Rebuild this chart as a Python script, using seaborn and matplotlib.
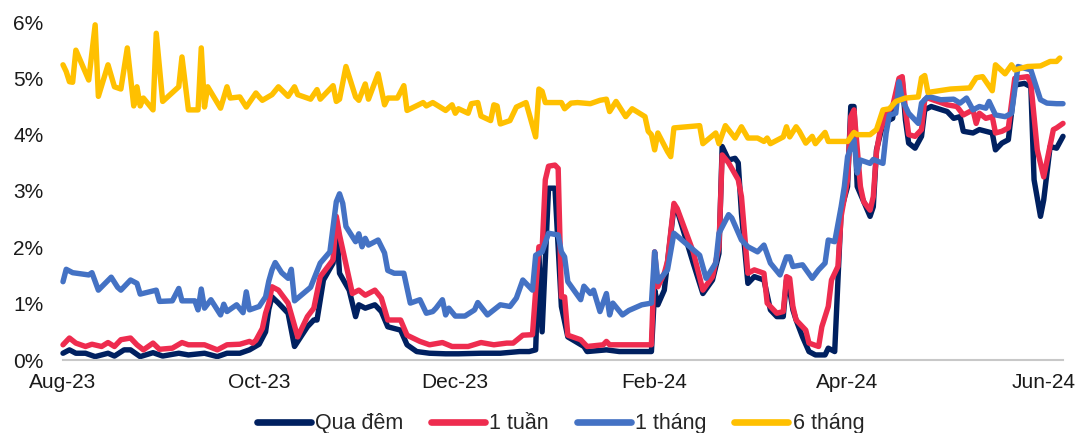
import numpy as np
import pandas as pd
import matplotlib
matplotlib.use("Agg")
import matplotlib.pyplot as plt
import matplotlib.dates as mdates
from matplotlib.ticker import FuncFormatter
import seaborn as sns

# Interbank rates (%), days counted from 2023-08-01
overnight_day = [0, 2, 4, 7, 10, 14, 16, 19, 21, 24, 28, 31, 36, 39, 44, 48, 51, 55, 58, 61,
                 63, 64, 65, 67, 70, 72, 76, 78, 79, 81, 84, 85, 86, 89, 91, 92, 94, 97, 99, 101,
                 105, 107, 110, 114, 119, 123, 130, 136, 142, 145, 147, 148, 149, 151, 153, 155, 157, 162, 163, 169,
                 173, 183, 184, 185, 187, 190, 191, 196, 199, 202, 204, 205, 207, 209, 210, 211, 213, 215, 218, 220,
                 222, 224, 225, 226, 227, 228, 230, 232, 234, 237, 238, 240, 241, 242, 244, 245, 246, 247, 251, 252,
                 253, 255, 258, 260, 261, 262, 263, 265, 267, 268, 270, 275, 277, 279, 280, 283, 285, 287, 289, 290,
                 292, 294, 296, 299, 301, 302, 304, 305, 307, 309, 311]
overnight = [0.12, 0.18, 0.12, 0.12, 0.06, 0.12, 0.07, 0.18, 0.18, 0.06, 0.13, 0.07, 0.12, 0.09, 0.12, 0.06, 0.12, 0.12, 0.18, 0.28,
             0.50, 0.90, 1.12, 1.01, 0.83, 0.24, 0.59, 0.71, 0.71, 1.42, 1.72, 2.43, 1.54, 1.24, 0.77, 0.98, 0.92, 0.98, 0.86, 0.59,
             0.53, 0.27, 0.15, 0.12, 0.11, 0.11, 0.12, 0.12, 0.15, 0.15, 0.18, 1.90, 0.50, 3.05, 3.05, 0.95, 0.41, 0.24, 0.15, 0.18,
             0.15, 0.15, 1.24, 0.98, 1.24, 2.72, 2.66, 1.72, 1.18, 1.42, 1.89, 3.79, 3.55, 3.58, 3.50, 2.60, 1.36, 1.48, 1.42, 0.89,
             0.77, 0.77, 1.42, 1.24, 0.89, 0.71, 0.41, 0.15, 0.09, 0.09, 0.21, 0.15, 1.42, 2.66, 3.08, 4.50, 4.50, 3.08, 2.55, 2.72,
             3.73, 4.20, 4.29, 4.97, 4.97, 4.26, 3.85, 3.76, 3.97, 4.44, 4.50, 4.41, 4.29, 4.32, 4.06, 4.03, 4.09, 4.06, 4.03, 3.73,
             3.85, 3.91, 4.88, 4.91, 4.85, 3.20, 2.55, 2.84, 3.79, 3.76, 3.97]

week_day = [0, 2, 4, 7, 9, 12, 14, 16, 18, 21, 23, 25, 28, 30, 34, 37, 39, 44, 48, 51,
            55, 58, 59, 60, 62, 63, 64, 65, 67, 70, 73, 76, 78, 80, 84, 85, 86, 90, 92, 94,
            97, 99, 101, 105, 107, 111, 114, 118, 121, 126, 130, 134, 138, 140, 143, 146, 148, 149, 150, 151,
            153, 154, 155, 156, 157, 161, 163, 168, 169, 170, 175, 183, 184, 185, 187, 188, 190, 191, 196, 199,
            202, 204, 205, 207, 210, 211, 213, 215, 218, 219, 222, 224, 225, 226, 227, 228, 231, 232, 235, 236,
            238, 239, 241, 242, 244, 245, 246, 248, 249, 251, 252, 253, 254, 256, 258, 260, 261, 262, 263, 265,
            267, 268, 269, 275, 278, 280, 283, 284, 285, 287, 289, 290, 292, 294, 296, 300, 301, 303, 305, 308,
            309, 311]
week = [0.27, 0.39, 0.30, 0.24, 0.28, 0.24, 0.31, 0.24, 0.36, 0.39, 0.27, 0.18, 0.30, 0.19, 0.21, 0.31, 0.27, 0.27, 0.18, 0.27,
        0.28, 0.33, 0.30, 0.35, 0.56, 0.83, 1.01, 1.30, 1.24, 1.01, 0.41, 0.77, 0.92, 1.48, 1.78, 2.55, 2.22, 1.18, 1.24, 1.15,
        1.24, 1.10, 0.71, 0.71, 0.44, 0.33, 0.27, 0.31, 0.24, 0.24, 0.31, 0.27, 0.30, 0.30, 0.44, 0.45, 2.01, 1.95, 3.20, 3.44,
        3.46, 3.40, 1.12, 1.12, 0.44, 0.36, 0.24, 0.27, 0.33, 0.27, 0.27, 0.27, 1.92, 1.30, 1.54, 1.75, 2.78, 2.69, 1.92, 1.24,
        1.48, 2.01, 3.64, 3.50, 3.20, 2.90, 1.54, 1.60, 1.54, 1.01, 0.83, 0.86, 1.48, 1.45, 0.95, 0.71, 0.53, 0.30, 0.24, 0.59,
        0.95, 1.42, 1.66, 2.55, 3.20, 4.32, 4.44, 3.08, 2.81, 2.66, 2.90, 3.70, 4.03, 4.38, 4.50, 5.00, 5.03, 4.44, 4.00, 3.97,
        4.09, 4.62, 4.65, 4.53, 4.50, 4.35, 4.44, 4.20, 4.38, 4.29, 4.32, 4.03, 4.06, 4.12, 5.00, 5.03, 4.91, 3.73, 3.25, 4.09,
        4.12, 4.20]

month_day = [0, 1, 3, 8, 9, 11, 15, 17, 18, 21, 23, 24, 29, 30, 34, 36, 37, 41, 42, 43,
             44, 46, 49, 50, 51, 54, 56, 57, 58, 61, 63, 64, 65, 66, 68, 70, 71, 72, 77, 80,
             83, 85, 86, 87, 88, 91, 92, 93, 94, 95, 98, 100, 101, 103, 106, 108, 111, 113, 115, 116,
             118, 119, 120, 122, 125, 128, 129, 132, 136, 139, 141, 143, 146, 147, 149, 151, 154, 155, 156, 157,
             161, 162, 164, 165, 167, 169, 170, 171, 174, 176, 180, 183, 184, 185, 188, 190, 198, 200, 203, 204,
             207, 208, 211, 213, 216, 218, 220, 223, 225, 226, 227, 230, 233, 235, 237, 238, 240, 242, 243, 244,
             246, 247, 248, 251, 252, 255, 256, 257, 259, 260, 261, 263, 266, 267, 269, 273, 277, 279, 281, 283,
             285, 287, 288, 290, 293, 295, 297, 299, 301, 304, 306, 309, 311]
month = [1.39, 1.61, 1.55, 1.51, 1.55, 1.24, 1.47, 1.29, 1.24, 1.42, 1.36, 1.17, 1.24, 1.04, 1.05, 1.27, 1.05, 1.05, 0.89, 1.26,
         0.92, 1.07, 0.80, 0.99, 0.86, 0.98, 0.84, 1.21, 0.89, 0.95, 1.12, 1.40, 1.60, 1.73, 1.55, 1.45, 1.61, 1.05, 1.29, 1.72,
         1.92, 2.81, 2.95, 2.78, 2.37, 2.10, 2.24, 2.01, 2.16, 2.04, 2.13, 1.90, 1.59, 1.54, 1.54, 1.01, 1.07, 0.83, 0.86, 0.92,
         1.07, 0.80, 0.92, 0.78, 0.78, 0.89, 1.02, 0.80, 0.98, 0.95, 1.10, 1.42, 1.24, 1.86, 1.92, 2.25, 2.22, 1.92, 1.83, 1.39,
         1.07, 1.31, 1.18, 1.24, 0.86, 1.18, 0.80, 1.01, 0.80, 0.88, 0.98, 1.01, 1.92, 1.39, 1.60, 2.25, 1.86, 1.45, 1.72, 2.25,
         2.58, 2.52, 2.13, 2.01, 1.92, 2.04, 1.72, 1.51, 1.83, 1.83, 1.66, 1.69, 1.45, 1.60, 1.72, 2.13, 2.10, 2.72, 3.08, 3.61,
         3.91, 3.32, 3.55, 3.49, 3.56, 3.49, 4.03, 4.35, 4.38, 4.94, 4.62, 4.38, 4.20, 4.56, 4.68, 4.62, 4.63, 4.56, 4.65, 4.44,
         4.50, 4.47, 4.59, 4.35, 4.32, 4.38, 5.21, 5.18, 5.15, 4.62, 4.56, 4.55, 4.55]

six_month_day = [0, 1, 2, 3, 4, 8, 10, 11, 14, 16, 18, 20, 22, 23, 24, 25, 28, 29, 31, 36,
                 37, 39, 42, 43, 44, 45, 49, 51, 52, 55, 57, 60, 61, 62, 65, 67, 70, 72, 73, 77,
                 79, 80, 84, 85, 86, 88, 91, 92, 94, 95, 98, 100, 101, 104, 106, 107, 112, 113, 115, 119,
                 121, 122, 123, 126, 127, 129, 130, 133, 134, 135, 136, 139, 141, 144, 147, 148, 149, 150, 155, 156,
                 158, 160, 164, 167, 169, 170, 172, 175, 177, 181, 182, 183, 184, 185, 188, 189, 190, 198, 199, 203,
                 204, 206, 209, 211, 213, 216, 218, 219, 220, 224, 225, 226, 228, 229, 231, 233, 234, 237, 238, 244,
                 246, 247, 251, 253, 255, 257, 259, 262, 266, 267, 268, 269, 276, 282, 284, 286, 289, 290, 293, 295,
                 296, 300, 304, 307, 309, 310]
six_month = [5.24, 5.12, 4.94, 4.93, 5.50, 4.97, 5.95, 4.68, 5.24, 4.85, 4.81, 5.54, 4.51, 4.85, 4.51, 4.65, 4.44, 5.80, 4.59, 4.85,
             5.38, 4.44, 4.44, 5.54, 4.49, 4.85, 4.47, 4.85, 4.65, 4.67, 4.49, 4.74, 4.67, 4.61, 4.71, 4.85, 4.68, 4.85, 4.71, 4.63,
             4.80, 4.63, 4.87, 4.59, 4.63, 5.21, 4.67, 4.61, 4.90, 4.63, 5.08, 4.53, 4.65, 4.65, 4.87, 4.43, 4.57, 4.51, 4.57, 4.43,
             4.53, 4.38, 4.46, 4.38, 4.55, 4.57, 4.33, 4.25, 4.53, 4.51, 4.19, 4.25, 4.49, 4.57, 3.96, 4.81, 4.77, 4.57, 4.57, 4.46,
             4.56, 4.57, 4.55, 4.61, 4.63, 4.41, 4.59, 4.32, 4.46, 4.32, 4.06, 4.00, 3.73, 4.03, 3.70, 3.61, 4.12, 4.16, 3.84, 4.03,
             3.84, 4.16, 3.94, 4.14, 3.94, 3.94, 3.88, 3.94, 3.84, 3.96, 4.14, 3.96, 4.14, 4.06, 3.85, 3.97, 3.84, 4.04, 3.88, 3.88,
             4.04, 4.00, 4.00, 4.09, 4.44, 4.46, 4.59, 4.65, 4.67, 5.01, 5.05, 4.75, 4.81, 4.83, 5.01, 5.03, 4.78, 5.24, 5.08, 5.24,
             5.15, 5.21, 5.22, 5.30, 5.30, 5.36]

series_names = ["Qua đêm", "1 tuần", "1 tháng", "6 tháng"]
series_days = [overnight_day, week_day, month_day, six_month_day]
series_vals = [overnight, week, month, six_month]
colors = ["#002060", "#EE2C4F", "#4472C4", "#FFC000"]

start = pd.Timestamp("2023-08-01")
frames = []
for name, d, v in zip(series_names, series_days, series_vals):
    frames.append(pd.DataFrame({
        "date": start + pd.to_timedelta(np.array(d), unit="D"),
        "rate": v,
        "series": name,
    }))
df = pd.concat(frames, ignore_index=True)

sns.set_style("white")
plt.rcParams["font.family"] = ["Liberation Sans", "DejaVu Sans"]

fig = plt.figure(figsize=(10.82, 4.33), dpi=100)
ax = fig.add_axes([63 / 1082, 1 - 360 / 433, 1000 / 1082, 338 / 433])

sns.lineplot(data=df, x="date", y="rate", hue="series", hue_order=series_names,
             palette=colors, estimator=None, sort=False, linewidth=3.9, ax=ax,
             legend=True)
for line in ax.lines:
    line.set_clip_on(False)
    line.set_solid_joinstyle("round")
    line.set_solid_capstyle("round")

ax.set_xlim(start, start + pd.Timedelta(days=311))
ax.set_ylim(0, 6)
ax.set_yticks(range(0, 7))
ax.yaxis.set_major_formatter(FuncFormatter(lambda v, _: f"{v:.0f}%"))
ax.xaxis.set_major_locator(mdates.MonthLocator(bymonth=[2, 4, 6, 8, 10, 12]))
ax.xaxis.set_major_formatter(mdates.DateFormatter("%b-%y"))

ax.set_xlabel("")
ax.set_ylabel("")
for side in ["left", "right", "top"]:
    ax.spines[side].set_visible(False)
ax.spines["bottom"].set_color("#C8C8C8")
ax.spines["bottom"].set_linewidth(1.5)
ax.tick_params(axis="y", length=0, pad=14, labelsize=15, labelcolor="#1A1A1A")
ax.tick_params(axis="x", length=5, width=1.2, color="#C8C8C8", pad=4,
               labelsize=15, labelcolor="#1A1A1A", direction="out")
ax.grid(False)

handles, labels = ax.get_legend_handles_labels()
ax.legend_.remove()
leg = fig.legend(handles, labels, loc="center", ncol=4,
                 bbox_to_anchor=(0.518, 0.021), frameon=False,
                 fontsize=15.5, handlelength=2.5, handletextpad=0.2,
                 columnspacing=1.3, borderaxespad=0)
for h in leg.legend_handles:
    h.set_linewidth(4.8)
    h.set_solid_capstyle("round")

fig.savefig("out.png", dpi=100)
